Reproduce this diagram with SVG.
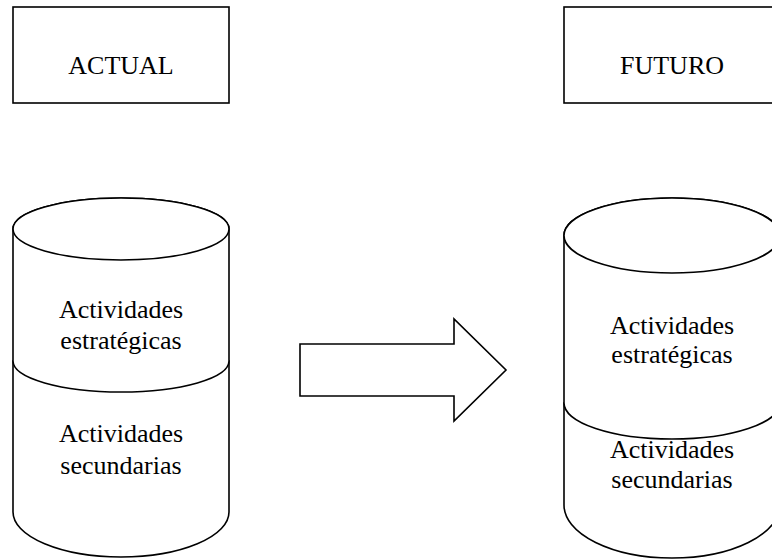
<svg xmlns="http://www.w3.org/2000/svg" width="772" height="560" viewBox="0 0 772 560">
  <style>
    .shape { fill: #ffffff; stroke: #000000; stroke-width: 1.6; stroke-linejoin: miter; }
    .label { font-family: "Liberation Serif", "Times New Roman", serif; font-size: 26px; fill: #000000; text-anchor: middle; }
  </style>
  <rect x="0" y="0" width="772" height="560" fill="#ffffff"/>

  <!-- Title boxes -->
  <g id="actual">
    <rect class="shape" x="13" y="7" width="216" height="96"/>
    <text class="label" x="121" y="74">ACTUAL</text>
  </g>
  <g id="futuro">
    <rect class="shape" x="564" y="7" width="216" height="96"/>
    <text class="label" x="672" y="74">FUTURO</text>
  </g>

  <!-- Current state: two stacked cans -->
  <g id="actual-secundarias">
    <path class="shape" d="M13,361 L13,512 A108,45 0 0 0 229,512 L229,361 Z"/>
    <text class="label" x="121" y="442">Actividades</text>
    <text class="label" x="121" y="474">secundarias</text>
  </g>
  <g id="actual-estrategicas">
    <path class="shape" d="M13,229 L13,361 A108,31 0 0 0 229,361 L229,229 A108,31 0 0 0 13,229 Z"/>
    <ellipse class="shape" cx="121" cy="229" rx="108" ry="31"/>
    <text class="label" x="121" y="318">Actividades</text>
    <text class="label" x="121" y="349">estratégicas</text>
  </g>

  <!-- Future state: two stacked cans -->
  <g id="futuro-secundarias">
    <path class="shape" d="M564,403 L564,505 A108,53 0 0 0 780,505 L780,403 Z"/>
  </g>
  <g id="futuro-estrategicas">
    <path class="shape" d="M564,235.5 L564,403 A108,36 0 0 0 780,403 L780,235.5 A108,37.5 0 0 0 564,235.5 Z"/>
    <ellipse class="shape" cx="672" cy="235.5" rx="108" ry="37.5"/>
    <text class="label" x="672" y="334">Actividades</text>
    <text class="label" x="672" y="363">estratégicas</text>
  </g>
  <g id="futuro-secundarias-label">
    <text class="label" x="672" y="458">Actividades</text>
    <text class="label" x="672" y="488">secundarias</text>
  </g>

  <!-- Transition arrow -->
  <g id="connectors">
    <path class="shape" d="M300,344 L454,344 L454,319 L506,370 L454,421 L454,396 L300,396 Z"/>
  </g>
</svg>
